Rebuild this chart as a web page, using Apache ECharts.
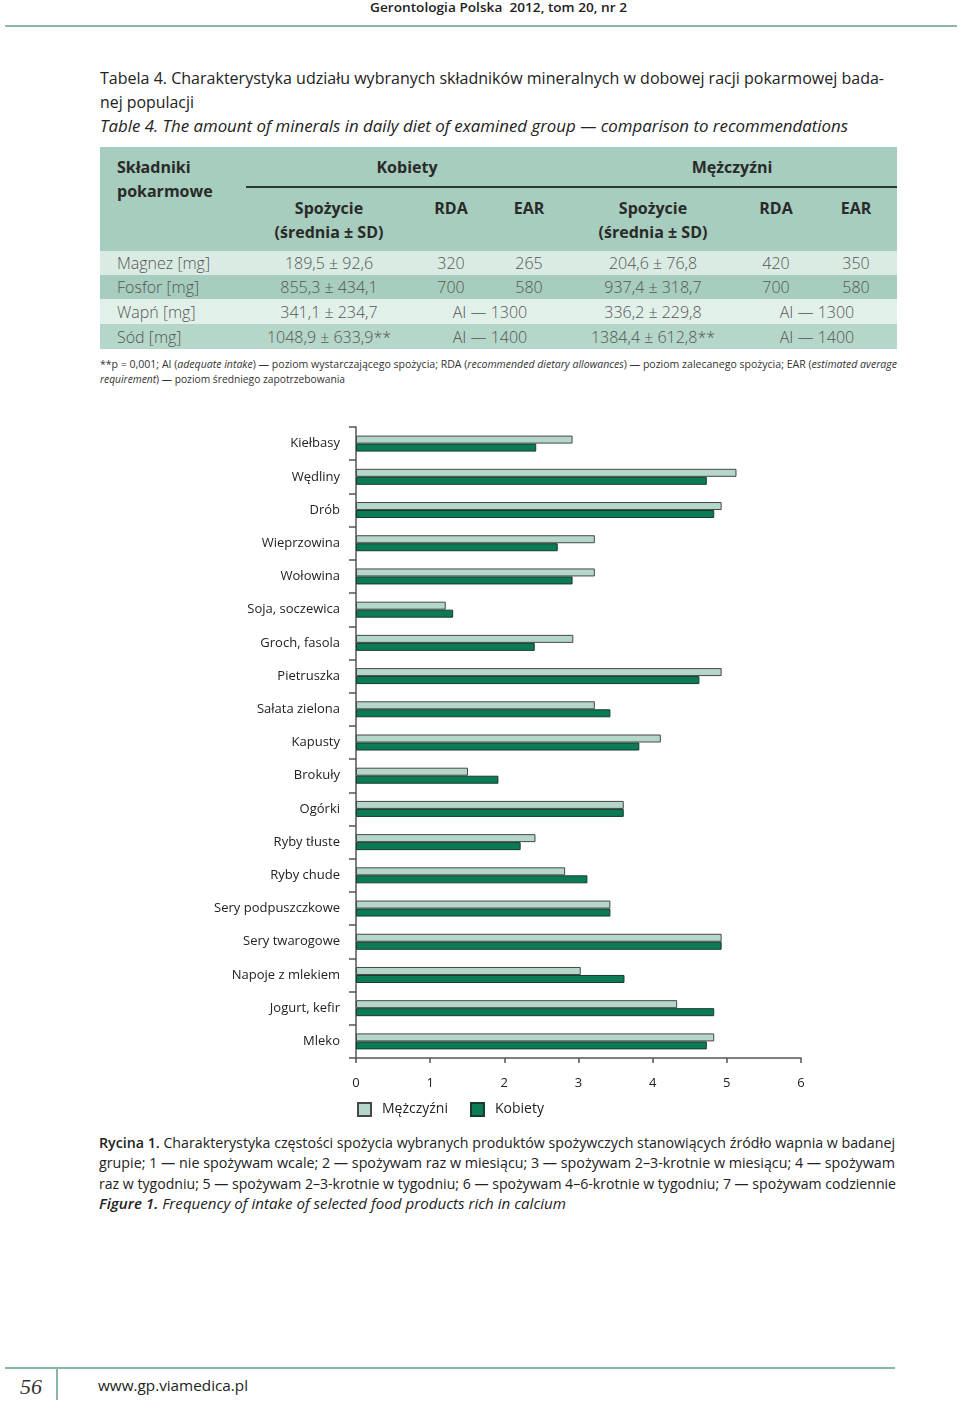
<!DOCTYPE html>
<html>
<head>
<meta charset="utf-8">
<script src="https://cdn.jsdelivr.net/npm/echarts@6/dist/echarts.min.js"></script>
<style>
  html, body { margin:0; padding:0; background:#fff; }
  body { width:960px; height:1403px; position:relative; overflow:hidden; font-family:"Open Sans","Noto Sans",sans-serif; color:#222; }
  .t { position:absolute; white-space:nowrap; transform-origin:0 50%; }
  .c { position:absolute; white-space:nowrap; text-align:center; }
  .hl { position:absolute; }
</style>
</head>
<body>
<div id="chart" style="position:absolute;left:0;top:420px;width:960px;height:710px;"></div>
<script>
// ---------- chart data ----------
const categories = ['Kiełbasy','Wędliny','Drób','Wieprzowina','Wołowina','Soja, soczewica','Groch, fasola','Pietruszka','Sałata zielona','Kapusty','Brokuły','Ogórki','Ryby tłuste','Ryby chude','Sery podpuszczkowe','Sery twarogowe','Napoje z mlekiem','Jogurt, kefir','Mleko'];
const menValues   = [2.92, 5.13, 4.93, 3.22, 3.22, 1.21, 2.93, 4.93, 3.22, 4.11, 1.51, 3.61, 2.42, 2.82, 3.43, 4.93, 3.03, 4.33, 4.83];
const womenValues = [2.43, 4.73, 4.83, 2.72, 2.92, 1.31, 2.41, 4.63, 3.43, 3.82, 1.92, 3.61, 2.22, 3.12, 3.43, 4.93, 3.62, 4.83, 4.73];
const seriesNames = ['Mężczyźni', 'Kobiety'];

// ---------- table data ----------
const nutrients   = ['Magnez [mg]', 'Fosfor [mg]', 'Wapń [mg]', 'Sód [mg]'];
const womenIntake = ['189,5 ± 92,6', '855,3 ± 434,1', '341,1 ± 234,7', '1048,9 ± 633,9**'];
const womenRDA    = ['320', '700', null, null];
const womenEAR    = ['265', '580', null, null];
const womenAI     = [null, null, 'AI — 1300', 'AI — 1400'];
const menIntake   = ['204,6 ± 76,8', '937,4 ± 318,7', '336,2 ± 229,8', '1384,4 ± 612,8**'];
const menRDA      = ['420', '700', null, null];
const menEAR      = ['350', '580', null, null];
const menAI       = [null, null, 'AI — 1300', 'AI — 1400'];

// ---------- helpers ----------
function fitText(html, x, yc, w, size, extra) {
  const d = document.createElement('div');
  d.className = 't';
  d.innerHTML = html;
  const lh = Math.round(size * 1.35);
  d.style.left = x + 'px';
  d.style.top = (yc - lh / 2) + 'px';
  d.style.fontSize = size + 'px';
  d.style.lineHeight = lh + 'px';
  Object.assign(d.style, extra || {});
  document.body.appendChild(d);
  if (w) {
    const aw = d.getBoundingClientRect().width;
    if (aw > 0) d.style.transform = 'scaleX(' + (w / aw) + ')';
  }
  return d;
}
function centerText(html, cx, yc, size, extra) {
  const d = document.createElement('div');
  d.className = 'c';
  d.innerHTML = html;
  const lh = Math.round(size * 1.35);
  d.style.left = (cx - 150) + 'px';
  d.style.width = '300px';
  d.style.top = (yc - lh / 2) + 'px';
  d.style.fontSize = size + 'px';
  d.style.lineHeight = lh + 'px';
  Object.assign(d.style, extra || {});
  document.body.appendChild(d);
  return d;
}
function rect(x, y, w, h, style) {
  const d = document.createElement('div');
  d.className = 'hl';
  d.style.left = x + 'px'; d.style.top = y + 'px';
  d.style.width = w + 'px'; d.style.height = h + 'px';
  Object.assign(d.style, style || {});
  document.body.appendChild(d);
  return d;
}

// ---------- page header ----------
fitText('Gerontologia Polska&nbsp; 2012, tom 20, nr 2', 370, 7, 257, 13, {fontWeight:'600', color:'#222'});
rect(5, 25, 952, 2, {background:'#8ab7a6'});

// ---------- table caption ----------
fitText('Tabela 4. Charakterystyka udziału wybranych składników mineralnych w dobowej racji pokarmowej bada-', 100, 77, 784, 17);
fitText('nej populacji', 100, 101, 94, 17);
fitText('<i>Table 4. The amount of minerals in daily diet of examined group — comparison to recommendations</i>', 100, 125, 748, 17);

// ---------- table ----------
const tL = 100, tR = 897;
rect(tL, 147, tR - tL, 104, {background:'#a6cdbd'});
const rowY = [251, 275, 299, 324, 349];
const rowBg = ['#d9ebe3', '#a6cdbd', '#e2f0ea', '#b4d7c9'];
for (let i = 0; i < 4; i++) rect(tL, rowY[i], tR - tL, rowY[i+1] - rowY[i], {background: rowBg[i]});
rect(tL - 1, 146, tR - tL + 2, 204, {border:'1.5px dashed rgba(255,255,255,0.75)', boxSizing:'border-box'});
rect(246, 186, tR - 246, 1.5, {background:'#2b3a33'});

const hs = {fontWeight:'700', color:'#2a2a2a'};
fitText('Składniki', 117, 167, 0, 16, hs);
fitText('pokarmowe', 117, 191, 0, 16, hs);
centerText('Kobiety', 407, 167, 16, hs);
centerText('Mężczyźni', 732, 167, 16, hs);
const colC = [329, 451, 529, 653, 776, 856];
centerText('Spożycie', colC[0], 208, 16, hs);
centerText('(średnia ± SD)', colC[0], 232, 16, hs);
centerText('RDA', colC[1], 208, 16, hs);
centerText('EAR', colC[2], 208, 16, hs);
centerText('Spożycie', colC[3], 208, 16, hs);
centerText('(średnia ± SD)', colC[3], 232, 16, hs);
centerText('RDA', colC[4], 208, 16, hs);
centerText('EAR', colC[5], 208, 16, hs);

const bs = {fontWeight:'300', color:'#555'};
const rowC = [263, 287, 312, 337];
for (let i = 0; i < 4; i++) {
  fitText(nutrients[i], 117, rowC[i], 0, 16, bs);
  centerText(womenIntake[i], colC[0], rowC[i], 16, bs);
  if (womenAI[i]) centerText(womenAI[i], 490, rowC[i], 16, bs);
  else { centerText(womenRDA[i], colC[1], rowC[i], 16, bs); centerText(womenEAR[i], colC[2], rowC[i], 16, bs); }
  centerText(menIntake[i], colC[3], rowC[i], 16, bs);
  if (menAI[i]) centerText(menAI[i], 817, rowC[i], 16, bs);
  else { centerText(menRDA[i], colC[4], rowC[i], 16, bs); centerText(menEAR[i], colC[5], rowC[i], 16, bs); }
}
const ns = {color:'#333'};
fitText('**p = 0,001; AI (<i>adequate intake</i>) — poziom wystarczającego spożycia; RDA (<i>recommended dietary allowances</i>) — poziom zalecanego spożycia; EAR (<i>estimated average</i>', 100, 363, 797, 11, ns);
fitText('<i>requirement</i>) — poziom średniego zapotrzebowania', 100, 378, 245, 11, ns);

// ---------- figure caption ----------
fitText('<span style="font-weight:600">Rycina 1.</span> Charakterystyka częstości spożycia wybranych produktów spożywczych stanowiących źródło wapnia w badanej', 99, 1142, 796, 15);
fitText('grupie; 1 — nie spożywam wcale; 2 — spożywam raz w miesiącu; 3 — spożywam 2–3-krotnie w miesiącu; 4 — spożywam', 99, 1162, 796, 15);
fitText('raz w tygodniu; 5 — spożywam 2–3-krotnie w tygodniu; 6 — spożywam 4–6-krotnie w tygodniu; 7 — spożywam codziennie', 99, 1183, 797, 15);
fitText('<i><span style="font-weight:600">Figure 1.</span> Frequency of intake of selected food products rich in calcium</i>', 99, 1203, 467, 15);

// ---------- footer ----------
rect(5, 1367, 890, 1.5, {background:'#8ab7a6'});
rect(56, 1367, 1.5, 33, {background:'#8ab7a6'});
fitText('<i>56</i>', 20, 1387, 22, 20, {fontFamily:'"Liberation Serif","DejaVu Serif",serif', color:'#333'});
fitText('www.gp.viamedica.pl', 98, 1385, 150, 15, {color:'#222'});

// ---------- chart ----------
const chart = echarts.init(document.getElementById('chart'), null, {renderer:'canvas'});
const axisFont = {fontFamily:'"Open Sans","Noto Sans",sans-serif', fontSize:13, color:'#222'};
chart.setOption({
  animation: false,
  grid: {left:356, top:7, width:445, height:631, containLabel:false},
  legend: {
    data: seriesNames,
    left: 352, top: 677,
    icon: 'rect', itemWidth: 13, itemHeight: 13, itemGap: 22,
    textStyle: Object.assign({}, axisFont, {fontSize:14, padding:[0,0,0,6]})
  },
  xAxis: {
    type: 'value', min: 0, max: 6, interval: 1,
    axisLine: {show:true, lineStyle:{color:'#555', width:1.5}},
    axisTick: {show:true, length:5, lineStyle:{color:'#555', width:1.5}},
    axisLabel: Object.assign({}, axisFont, {margin:19}),
    splitLine: {show:false}
  },
  yAxis: {
    type: 'category', data: categories, inverse: true,
    axisLine: {show:true, lineStyle:{color:'#555', width:1.5}},
    axisTick: {show:true, length:7, lineStyle:{color:'#555', width:1.5}},
    axisLabel: Object.assign({}, axisFont, {margin:16})
  },
  series: [
    {name: seriesNames[0], type:'bar', data: menValues, barWidth: 8, barGap: '0%',
     itemStyle: {color:'#b4d7ca', borderColor:'#474747', borderWidth:1}},
    {name: seriesNames[1], type:'bar', data: womenValues, barWidth: 8, barGap: '0%',
     itemStyle: {color:'#0b7b56', borderColor:'#183b2c', borderWidth:1}}
  ]
});
</script>
</body>
</html>
